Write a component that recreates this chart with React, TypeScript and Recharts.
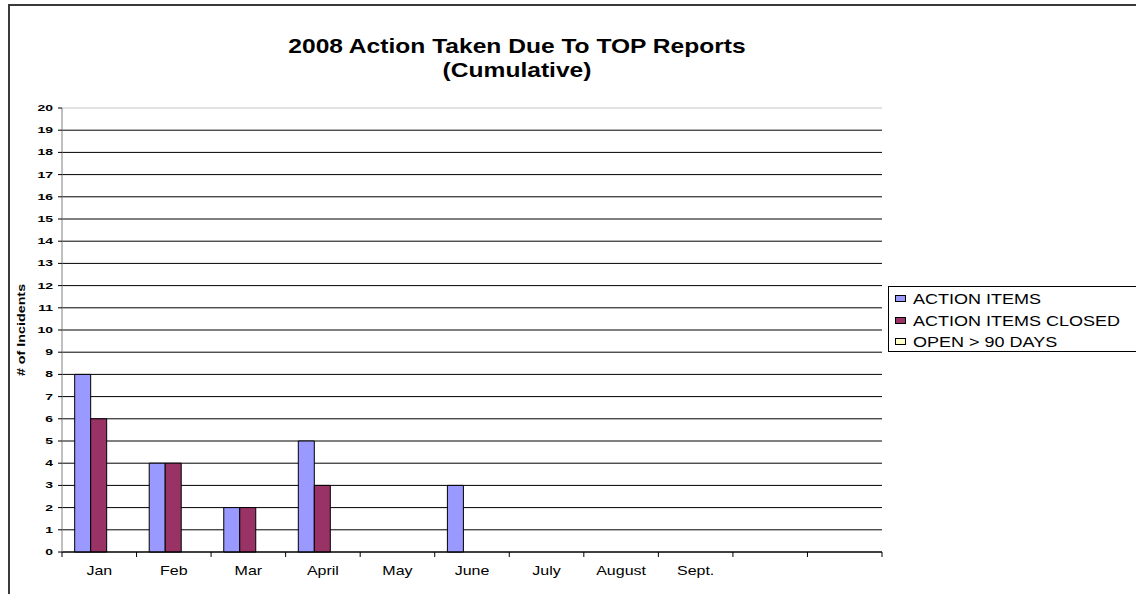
import React from "react";
import { BarChart, Bar, XAxis, YAxis, CartesianGrid, ReferenceLine } from "recharts";

const months = ["Jan", "Feb", "Mar", "April", "May", "June", "July", "August", "Sept.", "", ""];
const actionItems = [8, 4, 2, 5, null, 3, null, null, null, null, null];
const actionItemsClosed = [6, 4, 2, 3, null, null, null, null, null, null, null];
const openOver90 = [null, null, null, null, null, null, null, null, null, null, null];
const yTicks = [0, 1, 2, 3, 4, 5, 6, 7, 8, 9, 10, 11, 12, 13, 14, 15, 16, 17, 18, 19, 20];

const series = [
  { key: "items", name: "ACTION ITEMS", color: "#9999FF" },
  { key: "closed", name: "ACTION ITEMS CLOSED", color: "#993366" },
  { key: "open", name: "OPEN > 90 DAYS", color: "#FFFFCC" },
];

const W = 1136;
const H = 594;
const M = { top: 108, right: 254, bottom: 0, left: 8 };
const Y_W = 54;
const X_H = 42;
const PLOT_LEFT = M.left + Y_W;
const PLOT_W = W - M.right - PLOT_LEFT;
const PLOT_BOTTOM = H - X_H;
const BAND = PLOT_W / months.length;
const FONT = "'Liberation Sans', Arial, sans-serif";

const data = months.map((m, i) => ({
  month: m,
  items: actionItems[i],
  closed: actionItemsClosed[i],
  open: openOver90[i],
}));

const XTick = (props: any) => {
  const { x, payload, index } = props;
  const left = x - BAND / 2;
  return (
    <g>
      <line x1={left} x2={left} y1={PLOT_BOTTOM} y2={PLOT_BOTTOM + 5} stroke="#000" />
      {index === months.length - 1 && (
        <line x1={x + BAND / 2} x2={x + BAND / 2} y1={PLOT_BOTTOM} y2={PLOT_BOTTOM + 5} stroke="#000" />
      )}
      <text
        transform={`translate(${x},${PLOT_BOTTOM + 23}) scale(1.23,1)`}
        textAnchor="middle"
        fontFamily={FONT}
        fontSize={13}
        fill="#000"
      >
        {payload.value}
      </text>
    </g>
  );
};

const YTick = (props: any) => {
  const { x, y, payload } = props;
  return (
    <text
      transform={`translate(${x - 5},${y + 3}) scale(1.55,1)`}
      textAnchor="end"
      fontFamily={FONT}
      fontWeight="bold"
      fontSize={9}
      fill="#000"
    >
      {payload.value}
    </text>
  );
};

const LegendBox = () => (
  <div
    style={{
      position: "absolute",
      left: 888,
      top: 286,
      border: "1px solid #000",
      width: 260,
      height: 66,
      boxSizing: "border-box",
      paddingTop: 1,
      fontFamily: FONT,
    }}
  >
    {series.map((s) => (
      <div key={s.key} style={{ height: 21.5, display: "flex", alignItems: "center" }}>
        <span
          style={{
            display: "inline-block",
            width: 11,
            height: 7,
            marginLeft: 6,
            marginRight: 7,
            background: s.color,
            border: "1px solid #000",
            boxSizing: "border-box",
          }}
        />
        <span
          style={{
            fontSize: 15,
            color: "#000",
            display: "inline-block",
            transform: "scaleX(1.2)",
            transformOrigin: "left center",
            whiteSpace: "nowrap",
          }}
        >
          {s.name}
        </span>
      </div>
    ))}
  </div>
);

const titleLine = (top: number): React.CSSProperties => ({
  position: "absolute",
  left: 0,
  top,
  width: 1034,
  height: 21,
  textAlign: "center",
  fontFamily: FONT,
  fontWeight: "bold",
  fontSize: 21,
  lineHeight: "21px",
  color: "#000",
  whiteSpace: "nowrap",
  transform: "scaleX(1.17)",
  transformOrigin: "517px 0",
});

export default function App() {
  return (
    <div style={{ position: "absolute", left: 0, top: 0, width: W, height: H, overflow: "hidden", background: "#fff" }}>
      <div
        style={{
          position: "absolute",
          left: 8,
          top: 4,
          width: 1200,
          height: 700,
          borderLeft: "2px solid #3a3a3a",
          borderTop: "2px solid #3a3a3a",
        }}
      />
      <div style={titleLine(35)}>2008 Action Taken Due To TOP Reports</div>
      <div style={titleLine(58.7)}>(Cumulative)</div>
      <div
        style={{
          position: "absolute",
          left: 21 - 60,
          top: 330 - 7,
          width: 120,
          height: 14,
          lineHeight: "14px",
          textAlign: "center",
          fontFamily: FONT,
          fontWeight: "bold",
          fontSize: 11,
          color: "#000",
          whiteSpace: "nowrap",
          transform: "rotate(-90deg) scaleX(1.3)",
        }}
      >
        # of Incidents
      </div>
      <div style={{ position: "absolute", left: 0, top: 0 }}>
        <BarChart width={W} height={H} data={data} margin={M} barCategoryGap="17%" barGap={0}>
          <CartesianGrid vertical={false} stroke="#000" strokeWidth={1} />
          <ReferenceLine y={20} stroke="#e2e2e2" strokeWidth={2} />
          <XAxis
            dataKey="month"
            height={X_H}
            stroke="#000"
            tickLine={false}
            tickSize={5}
            tickMargin={0}
            interval={0}
            tick={<XTick />}
          />
          <YAxis
            width={Y_W}
            domain={[0, 20]}
            ticks={yTicks}
            interval={0}
            axisLine={{ stroke: "#808080" }}
            tickLine={{ stroke: "#000" }}
            tickSize={4}
            tickMargin={0}
            tick={<YTick />}
          />
          {series.map((s) => (
            <Bar
              key={s.key}
              dataKey={s.key}
              name={s.name}
              fill={s.color}
              stroke="#000"
              strokeWidth={1}
              isAnimationActive={false}
            />
          ))}
        </BarChart>
      </div>
      <LegendBox />
    </div>
  );
}
